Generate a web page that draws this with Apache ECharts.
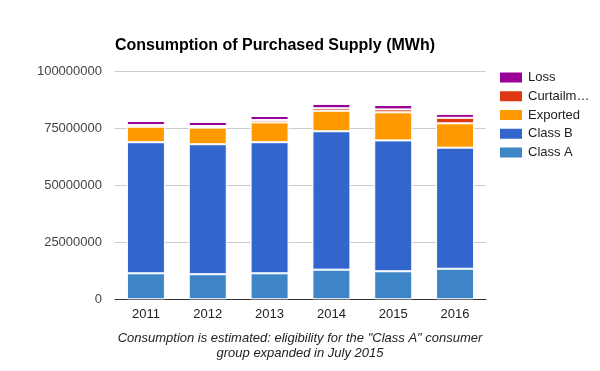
<!DOCTYPE html>
<html>
<head>
<meta charset="utf-8">
<script src="https://cdn.jsdelivr.net/npm/echarts@6/dist/echarts.min.js"></script>
<style>
html,body{margin:0;padding:0;background:#fff;}
#chart{width:600px;height:371px;}
</style>
</head>
<body>
<div id="chart"></div>
<script>
const categories = ['2011', '2012', '2013', '2014', '2015', '2016'];
const classA = [11400000, 11000000, 11400000, 13000000, 12300000, 13400000];
const classB = [57500000, 57000000, 57500000, 60700000, 57400000, 53100000];
const exported = [6800000, 7300000, 8700000, 9000000, 12300000, 10700000];
const curtailment = [700000, 700000, 1000000, 1100000, 1300000, 2400000];
const loss = [1800000, 1800000, 1800000, 1900000, 1900000, 1700000];
const yTicks = [0, 25000000, 50000000, 75000000, 100000000];
const legendOrder = ['Loss', 'Curtailment', 'Exported', 'Class B', 'Class A'];
const titleText = 'Consumption of Purchased Supply (MWh)';
const captionText = 'Consumption is estimated: eligibility for the "Class A" consumer\ngroup expanded in July 2015';

const chart = echarts.init(document.getElementById('chart'), null, {renderer: 'canvas'});
const fontFamily = 'Arial, "Liberation Sans", sans-serif';
function mk(name, data, color) {
  return {
    name: name, type: 'bar', stack: 'total', data: data, barWidth: 38,
    itemStyle: {color: color, borderColor: '#ffffff', borderWidth: 1},
    emphasis: {disabled: true}
  };
}
chart.setOption({
  animation: false,
  textStyle: {fontFamily: fontFamily},
  title: {text: titleText, left: 115, top: 38, padding: 0,
     textStyle: {fontSize: 16, fontWeight: 'bold', color: '#000', fontFamily: fontFamily}},
  graphic: [{
    type: 'text', x: 300, y: 330.5,
    style: {text: captionText, textAlign: 'center', fill: '#222', lineHeight: 15.5,
            font: 'italic 13px Arial, "Liberation Sans", sans-serif'}
  }],
  legend: {
    orient: 'vertical', left: 498, top: 70.5, padding: 0,
    data: legendOrder,
    itemWidth: 24, itemHeight: 12, itemGap: 4.75,
    icon: 'rect',
    formatter: function (n) { return n.length > 9 ? n.slice(0, 8) + '\u2026' : n; },
    textStyle: {fontSize: 13, color: '#222', padding: [0, 0, 0, 0], lineHeight: 12, fontFamily: fontFamily}
  },
  grid: {left: 115, right: 114, top: 71.3, bottom: 71.7, containLabel: false},
  xAxis: {
    type: 'category', data: categories,
    axisLine: {show: true, lineStyle: {color: '#333', width: 1}},
    axisTick: {show: false},
    axisLabel: {color: '#222', fontSize: 13, margin: 9}
  },
  yAxis: {
    type: 'value', min: yTicks[0], max: yTicks[yTicks.length - 1], interval: yTicks[1] - yTicks[0],
    axisLine: {show: false}, axisTick: {show: false},
    axisLabel: {color: '#444', fontSize: 13, margin: 13, formatter: function (v) { return String(v); }},
    splitLine: {lineStyle: {color: '#cccccc', width: 1}}
  },
  series: [
    mk('Class A', classA, '#3d85c6'),
    mk('Class B', classB, '#3366cc'),
    mk('Exported', exported, '#ff9900'),
    mk('Curtailment', curtailment, '#dc3912'),
    mk('Loss', loss, '#990099')
  ]
});
</script>
</body>
</html>
